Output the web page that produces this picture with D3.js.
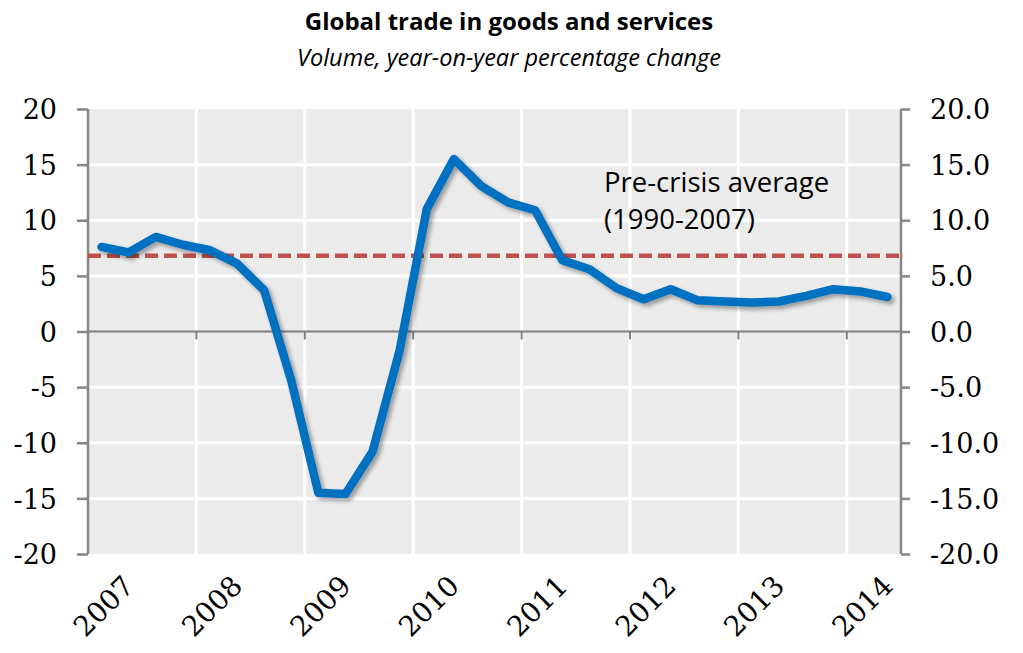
<!DOCTYPE html>
<html>
<head>
<meta charset="utf-8">
<script src="https://cdn.jsdelivr.net/npm/d3@7"></script>
<style>
  html, body { margin: 0; padding: 0; background: #fff; }
  svg { display: block; }
</style>
</head>
<body>
<svg id="chart" width="1023" height="653"></svg>
<script>
// ---- Data ----
const years = ["2007", "2008", "2009", "2010", "2011", "2012", "2013", "2014"];
const quarters = ["2007Q1","2007Q2","2007Q3","2007Q4","2008Q1","2008Q2","2008Q3","2008Q4",
                  "2009Q1","2009Q2","2009Q3","2009Q4","2010Q1","2010Q2","2010Q3","2010Q4",
                  "2011Q1","2011Q2","2011Q3","2011Q4","2012Q1","2012Q2","2012Q3","2012Q4",
                  "2013Q1","2013Q2","2013Q3","2013Q4","2014Q1","2014Q2"];
const tradeGrowth = [7.6, 7.1, 8.5, 7.8, 7.3, 6.1, 3.7, -4.4,
                     -14.5, -14.6, -10.8, -1.7, 11.0, 15.5, 13.1, 11.6,
                     10.9, 6.4, 5.6, 3.9, 2.9, 3.8, 2.8, 2.7,
                     2.6, 2.7, 3.2, 3.8, 3.6, 3.1];
const preCrisisAverage = 6.8;
const leftTicks = [-20, -15, -10, -5, 0, 5, 10, 15, 20];
const annotationLines = ["Pre-crisis average", "(1990-2007)"];
const title = "Global trade in goods and services";
const subtitle = "Volume, year-on-year percentage change";

// ---- Layout ----
const svg = d3.select("#chart");
const L = 88, R = 901, T = 109, B = 554;

const x = d3.scaleBand().domain(quarters).range([L, R]).padding(0);
const y = d3.scaleLinear().domain([-20, 20]).range([B, T]);

// filter for shadow
const defs = svg.append("defs");
const f = defs.append("filter").attr("id", "shadow").attr("x", "-10%").attr("y", "-10%").attr("width", "120%").attr("height", "120%");
f.append("feDropShadow").attr("dx", 3).attr("dy", 3).attr("stdDeviation", 2)
  .attr("flood-color", "#000").attr("flood-opacity", 0.35);

// plot background
svg.append("rect").attr("x", L).attr("y", T).attr("width", R - L).attr("height", B - T).attr("fill", "#EBEBEB");

// horizontal gridlines
svg.append("g").selectAll("line")
  .data(leftTicks.filter(d => d !== 0 && d !== 20 && d !== -20))
  .join("line")
  .attr("x1", L).attr("x2", R)
  .attr("y1", d => y(d)).attr("y2", d => y(d))
  .attr("stroke", "#fff").attr("stroke-width", 3);

// vertical gridlines at start of each year
const yearStarts = years.map(yr => yr + "Q1");
svg.append("g").selectAll("line")
  .data(yearStarts.slice(1))
  .join("line")
  .attr("x1", d => x(d)).attr("x2", d => x(d))
  .attr("y1", T).attr("y2", B)
  .attr("stroke", "#fff").attr("stroke-width", 3);

// zero line with ticks
svg.append("line").attr("x1", L).attr("x2", R).attr("y1", y(0)).attr("y2", y(0))
  .attr("stroke", "#7F7F7F").attr("stroke-width", 2);
svg.append("g").selectAll("line")
  .data(yearStarts.slice(1))
  .join("line")
  .attr("x1", d => x(d)).attr("x2", d => x(d))
  .attr("y1", y(0)).attr("y2", y(0) + 8)
  .attr("stroke", "#7F7F7F").attr("stroke-width", 2);

// left axis
const leftAxis = svg.append("g").attr("transform", `translate(${L},0)`)
  .call(d3.axisLeft(y).tickValues(leftTicks).tickSize(11).tickPadding(20).tickFormat(d3.format("d")));
leftAxis.select(".domain").attr("stroke", "#868686").attr("stroke-width", 2.5).attr("d", `M0,${T}V${B}`);
leftAxis.selectAll(".tick line").attr("stroke", "#868686").attr("stroke-width", 2.5);
leftAxis.selectAll(".tick text")
  .attr("font-family", "'DejaVu Serif', serif").attr("font-size", 27).attr("fill", "#000")
  .attr("dy", "0.36em");

// right axis
const rightAxis = svg.append("g").attr("transform", `translate(${R},0)`)
  .call(d3.axisRight(y).tickValues(leftTicks).tickSize(9).tickPadding(20).tickFormat(d3.format(".1f")));
rightAxis.select(".domain").attr("stroke", "#868686").attr("stroke-width", 2.5).attr("d", `M0,${T}V${B}`);
rightAxis.selectAll(".tick line").attr("stroke", "#868686").attr("stroke-width", 2.5);
rightAxis.selectAll(".tick text")
  .attr("font-family", "'DejaVu Serif', serif").attr("font-size", 27).attr("fill", "#000")
  .attr("dy", "0.36em");
// use hyphen minus like the original
leftAxis.selectAll(".tick text").text(d => String(d).replace("\u2212", "-"));
rightAxis.selectAll(".tick text").text(d => d3.format(".1f")(d).replace("\u2212", "-"));

// x labels (rotated)
svg.append("g").selectAll("text")
  .data(years)
  .join("text")
  .attr("transform", d => `translate(${x(d + "Q1") + x.bandwidth() / 2 + 2},${606}) rotate(-45)`)
  .attr("text-anchor", "middle")
  .attr("dy", "0.35em")
  .attr("font-family", "'DejaVu Serif', serif").attr("font-size", 28).attr("fill", "#000")
  .text(d => d);

// pre-crisis average dashed line
svg.append("line")
  .attr("x1", L).attr("x2", R)
  .attr("y1", y(preCrisisAverage)).attr("y2", y(preCrisisAverage))
  .attr("stroke", "#C0504D").attr("stroke-width", 4.5)
  .attr("stroke-dasharray", "13,6");

// main line
const line = d3.line()
  .x((d, i) => x(quarters[i]) + x.bandwidth() / 2)
  .y(d => y(d));
svg.append("path")
  .datum(tradeGrowth)
  .attr("d", line)
  .attr("fill", "none")
  .attr("stroke", "#0070C0")
  .attr("stroke-width", 8.5)
  .attr("stroke-linejoin", "round")
  .attr("stroke-linecap", "round")
  .attr("filter", "url(#shadow)");

// annotation
svg.append("g").selectAll("text")
  .data(annotationLines)
  .join("text")
  .attr("x", 604)
  .attr("y", (d, i) => 192 + i * 37)
  .attr("font-family", "'Open Sans', 'Noto Sans', sans-serif").attr("font-size", 27.5).attr("fill", "#000")
  .text(d => d);

// titles
svg.append("text").attr("x", 509).attr("y", 30).attr("text-anchor", "middle")
  .attr("font-family", "'Open Sans', 'Noto Sans', sans-serif").attr("font-weight", "bold")
  .attr("font-size", 24).attr("fill", "#000").text(title);
svg.append("text").attr("x", 509).attr("y", 66).attr("text-anchor", "middle")
  .attr("font-family", "'Open Sans', 'Noto Sans', sans-serif").attr("font-style", "italic")
  .attr("font-size", 23.5).attr("fill", "#000").text(subtitle);
</script>
</body>
</html>
